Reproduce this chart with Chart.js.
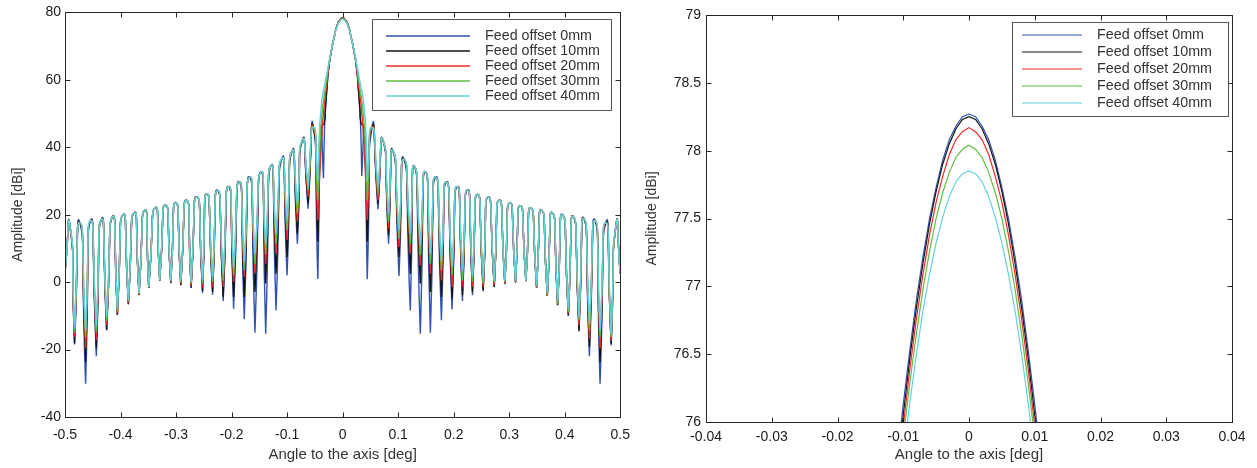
<!DOCTYPE html>
<html>
<head>
<meta charset="utf-8">
<script src="https://cdn.jsdelivr.net/npm/chart.js@4.4.1/dist/chart.umd.min.js"></script>
<style>
html,body{margin:0;padding:0;background:#fff;width:1257px;height:468px;overflow:hidden;}
#c1{position:absolute;left:0;top:0;}
#c2{position:absolute;left:640px;top:0;}
</style>
</head>
<body>
<canvas id="c1" width="640" height="468"></canvas>
<canvas id="c2" width="617" height="468"></canvas>
<script>
// ---------- series ----------
const seriesNames = ['Feed offset 0mm','Feed offset 10mm','Feed offset 20mm','Feed offset 30mm','Feed offset 40mm'];
const seriesColors = ['#3152b0','#151515','#ee2a2a','#62bd45','#66cfe0'];

// ---------- left panel: full pattern ----------
const leftXTicks = {min:-0.5, max:0.5, step:0.1};
const leftYTicks = {min:-40, max:80, step:20};

const edgeAngles = [-0.5, 0.5];
const edgeLevels = [3.0, 2.5];

const sidelobeAngles = [
 -0.4913,-0.4732,-0.4539,-0.4345,-0.4145,-0.3955,-0.3755,-0.3565,-0.3375,-0.3191,-0.3005,-0.2812,
 -0.2625,-0.2445,-0.2252,-0.2054,-0.1862,-0.1675,-0.1471,-0.1290,-0.1095,-0.0911,-0.0725,-0.0527,
 0.0528,0.0726,0.0907,0.1105,0.1295,0.1490,0.1675,0.1869,0.2062,0.2248,0.2428,0.2621,
 0.2820,0.3011,0.3199,0.3390,0.3584,0.3777,0.3963,0.4156,0.4347,0.4546,0.4739,0.4925];
const sidelobeLevels = [
 16.9,17.6,18.2,18.6,19.4,20.0,20.6,21.4,22.1,22.8,23.6,24.3,
 25.3,26.2,27.2,28.3,29.7,31.1,32.6,34.5,36.6,38.9,42.1,45.9,
 45.8,42.1,38.9,36.4,34.2,32.7,31.1,29.7,28.3,27.3,26.0,25.2,
 24.3,23.5,22.7,22.0,21.4,20.6,20.0,19.4,18.8,18.2,17.6,17.1];

const nullAngles = [
 -0.4828,-0.4629,-0.4436,-0.4250,-0.4057,-0.3859,-0.3667,-0.3492,-0.3294,-0.3095,-0.2915,-0.2729,
 -0.2523,-0.2342,-0.2151,-0.1963,-0.1772,-0.1579,-0.1386,-0.1200,-0.1001,-0.0815,-0.0622,-0.0447,
 0.0443,0.0636,0.0827,0.1015,0.1219,0.1399,0.1580,0.1779,0.1971,0.2158,0.2338,0.2531,
 0.2730,0.2921,0.3114,0.3300,0.3493,0.3686,0.3872,0.4065,0.4257,0.4444,0.4636,0.4835];

const nullDepth0mm = [
 -18.5,-30.1,-22.0,-14.3,-9.8,-6.6,-3.9,-1.7,0.4,-0.3,-1.0,-1.7,
 -3.2,-3.7,-5.6,-7.9,-11.0,-15.0,-15.3,-8.4,2.0,11.4,21.8,0.9,
 0.85,21.6,11.4,1.8,-8.4,-15.3,-15.0,-11.3,-8.1,-5.6,-3.9,-2.7,
 -1.4,-0.6,-0.1,0.3,-1.6,-4.1,-6.9,-10.0,-14.6,-22.0,-30.1,-18.8];
const nullDepth10mm = [
 -18.1,-23.7,-19.7,-14.1,-9.6,-6.4,-3.8,-1.7,0.4,-0.2,-0.8,-1.6,
 -2.6,-2.9,-4.4,-4.4,-4.4,-2.9,-0.4,2.5,7.5,14.4,23.3,12.0,
 12.0,23.3,13.9,7.5,2.5,-0.4,-2.9,-4.4,-4.9,-3.9,-2.9,-2.4,
 -1.4,-0.4,0.0,0.3,-1.6,-4.1,-6.8,-9.8,-14.3,-19.2,-23.7,-18.3];
const nullDepth20mm = [
 -16.3,-19.7,-17.1,-12.8,-9.2,-6.1,-3.7,-1.6,0.5,0.1,-0.5,-1.1,
 -1.4,-1.4,-1.4,0.1,1.5,2.5,5.5,8.5,12.4,17.9,25.3,18.4,
 18.4,24.3,15.9,10.4,8.5,5.0,2.5,0.5,-1.4,-1.4,-1.4,-1.4,
 -1.0,-0.4,0.1,0.3,-1.5,-4.0,-6.6,-9.3,-12.8,-16.8,-19.7,-17.3];
const nullDepth30mm = [
 -15.1,-16.5,-14.8,-11.5,-8.7,-5.7,-3.5,-1.5,0.6,0.3,0.0,-0.4,
 -0.4,0.1,0.5,2.0,3.5,5.5,8.3,11.4,15.4,20.4,27.3,24.3,
 24.3,26.3,17.9,12.9,11.4,8.0,5.5,3.5,2.0,0.5,0.1,-0.4,
 -0.2,0.0,0.3,0.4,-1.3,-3.9,-6.4,-8.9,-11.3,-14.3,-16.3,-16.3];
const nullDepth40mm = [
 -13.8,-14.3,-13.3,-10.3,-7.9,-5.2,-3.2,-1.4,0.7,0.5,0.5,0.1,
 0.5,1.5,2.5,4.0,6.0,8.3,11.4,14.4,18.4,23.3,28.8,30.0,
 30.0,28.8,20.4,15.4,14.4,10.9,8.5,6.0,4.5,3.5,2.0,1.0,
 0.5,0.5,0.5,0.5,-1.0,-2.9,-5.4,-7.9,-10.3,-12.3,-14.3,-15.3];

const mainLobe0mm = [
 [-0.039,44.5],[-0.0325,46],[-0.031,51],[-0.028,58],[-0.025,63.5],[-0.02,68.8],[-0.015,72.8],[-0.01,76.1],[-0.005,77.73],
 [0,78.27],
 [0.005,77.73],[0.01,76.1],[0.015,72.8],[0.02,68.8],[0.025,63.5],[0.028,58],[0.031,51],[0.0325,46],[0.039,44.5]];
const innerNull0mm = [[-0.0345,30.8],[0.0345,31.5]];
const mainLobe10mm = [
 [-0.0385,46.3],[-0.036,46.6],[-0.033,47.2],[-0.031,51.5],[-0.028,58],[-0.025,63.5],[-0.02,68.8],[-0.015,72.8],[-0.01,76.05],[-0.005,77.7],
 [0,78.25],
 [0.005,77.7],[0.01,76.05],[0.015,72.8],[0.02,68.8],[0.025,63.5],[0.028,58],[0.031,51.5],[0.033,47.2],[0.036,46.6],[0.0385,46.3]];
const mainLobe20mm = [
 [-0.04,36],[-0.037,45],[-0.034,51],[-0.031,55.5],[-0.028,59.5],[-0.025,64],[-0.02,68.9],[-0.015,72.8],[-0.01,75.97],[-0.005,77.62],
 [0,78.17],
 [0.005,77.62],[0.01,75.97],[0.015,72.8],[0.02,68.9],[0.025,64],[0.028,59.5],[0.031,55.5],[0.034,51],[0.037,45],[0.04,36]];
const mainLobe30mm = [
 [-0.0405,42],[-0.037,50],[-0.034,54.5],[-0.031,57.5],[-0.028,61],[-0.025,64.5],[-0.02,69],[-0.015,72.8],[-0.01,75.88],[-0.005,77.5],
 [0,78.04],
 [0.005,77.5],[0.01,75.88],[0.015,72.8],[0.02,69],[0.025,64.5],[0.028,61],[0.031,57.5],[0.034,54.5],[0.037,50],[0.0405,42]];
const mainLobe40mm = [
 [-0.042,44],[-0.039,51],[-0.036,55.5],[-0.033,58],[-0.03,60.5],[-0.025,64.8],[-0.02,69],[-0.015,72.7],[-0.01,75.74],[-0.005,77.32],
 [0,77.85],
 [0.005,77.32],[0.01,75.74],[0.015,72.7],[0.02,69],[0.025,64.8],[0.03,60.5],[0.033,58],[0.036,55.5],[0.039,51],[0.042,44]];

// ---------- right panel: main beam zoom ----------
const rightXTicks = {min:-0.04, max:0.04, step:0.01};
const rightYTicks = {min:76, max:79, step:0.5};
const zoomAngles = [-0.011,-0.010,-0.009,-0.008,-0.007,-0.006,-0.005,-0.004,-0.003,-0.002,-0.001,0,
                    0.001,0.002,0.003,0.004,0.005,0.006,0.007,0.008,0.009,0.010,0.011];
const zoom0mm  = [75.68,76.13,76.53,76.90,77.22,77.50,77.73,77.93,78.08,78.18,78.25,78.27,78.25,78.18,78.08,77.93,77.73,77.50,77.22,76.90,76.53,76.13,75.68];
const zoom10mm = [75.59,76.05,76.47,76.84,77.17,77.46,77.70,77.90,78.05,78.16,78.23,78.25,78.23,78.16,78.05,77.90,77.70,77.46,77.17,76.84,76.47,76.05,75.59];
const zoom20mm = [75.51,75.97,76.39,76.76,77.09,77.38,77.62,77.81,77.97,78.08,78.14,78.17,78.14,78.08,77.97,77.81,77.62,77.38,77.09,76.76,76.39,75.97,75.51];
const zoom30mm = [75.42,75.88,76.29,76.65,76.98,77.26,77.50,77.69,77.84,77.95,78.01,78.04,78.01,77.95,77.84,77.69,77.50,77.26,76.98,76.65,76.29,75.88,75.42];
const zoom40mm = [75.30,75.74,76.14,76.50,76.82,77.09,77.32,77.51,77.66,77.77,77.83,77.85,77.83,77.77,77.66,77.51,77.32,77.09,76.82,76.50,76.14,75.74,75.30];

// ---------- build data tables ----------
function buildPattern(nullDepths, mainLobe, innerNulls) {
  const pts = [];
  edgeAngles.forEach((a, i) => pts.push({x: a, y: edgeLevels[i]}));
  sidelobeAngles.forEach((a, i) => pts.push({x: a, y: sidelobeLevels[i]}));
  // each null listed twice so the spline keeps a sharp cusp there
  nullAngles.forEach((a, i) => { pts.push({x: a, y: nullDepths[i]}); pts.push({x: a, y: nullDepths[i]}); });
  mainLobe.forEach(([a, v]) => pts.push({x: a, y: v}));
  innerNulls.forEach(([a, v]) => { pts.push({x: a, y: v}); pts.push({x: a, y: v}); });
  return pts.sort((p, q) => p.x - q.x);
}
const leftSeries = [
  [nullDepth0mm, mainLobe0mm, innerNull0mm],
  [nullDepth10mm, mainLobe10mm, []],
  [nullDepth20mm, mainLobe20mm, []],
  [nullDepth30mm, mainLobe30mm, []],
  [nullDepth40mm, mainLobe40mm, []]
];
const rightSeries = [zoom0mm, zoom10mm, zoom20mm, zoom30mm, zoom40mm];

const FONT = "'Liberation Sans', Arial, Helvetica, sans-serif";

function framePlugin(leg) {
  return {
    id: 'frameLegend',
    afterDraw(chart) {
      const {ctx, chartArea: a, scales: {x, y}} = chart;
      ctx.save();
      ctx.strokeStyle = '#262626';
      ctx.lineWidth = 1;
      const L = Math.round(a.left) + 0.5, T = Math.round(a.top) + 0.5;
      const R = Math.round(a.right) + 0.5, B = Math.round(a.bottom) + 0.5;
      ctx.strokeRect(L, T, R - L, B - T);
      const tl = 5;
      ctx.beginPath();
      x.ticks.forEach(t => {
        const px = Math.round(x.getPixelForValue(t.value)) + 0.5;
        ctx.moveTo(px, B); ctx.lineTo(px, B - tl);
        ctx.moveTo(px, T); ctx.lineTo(px, T + tl);
      });
      y.ticks.forEach(t => {
        const py = Math.round(y.getPixelForValue(t.value)) + 0.5;
        ctx.moveTo(L, py); ctx.lineTo(L + tl, py);
        ctx.moveTo(R, py); ctx.lineTo(R - tl, py);
      });
      ctx.stroke();
      // legend
      ctx.fillStyle = '#ffffff';
      ctx.fillRect(leg.x, leg.y, leg.w, leg.h);
      ctx.strokeStyle = '#555555';
      ctx.strokeRect(leg.x + 0.5, leg.y + 0.5, leg.w, leg.h);
      ctx.font = leg.font;
      ctx.textBaseline = 'middle';
      ctx.textAlign = 'left';
      seriesNames.forEach((name, i) => {
        const ry = leg.rows[i];
        ctx.strokeStyle = seriesColors[i];
        ctx.lineWidth = leg.lw;
        ctx.beginPath();
        ctx.moveTo(leg.lx0, ry); ctx.lineTo(leg.lx1, ry);
        ctx.stroke();
        ctx.fillStyle = '#333333';
        ctx.fillText(name, leg.tx, ry);
      });
      ctx.restore();
    }
  };
}

function makeOptions(xt, yt, fmtX, geo) {
  return {
    responsive: false,
    devicePixelRatio: 1,
    animation: false,
    events: [],
    layout: {padding: {left: 0, top: geo.top, right: geo.right, bottom: 0}},
    plugins: {legend: {display: false}, tooltip: {enabled: false}},
    elements: {point: {radius: 0}},
    scales: {
      x: {
        type: 'linear', min: xt.min, max: xt.max,
        grid: {display: false, drawTicks: false},
        border: {display: false},
        ticks: {stepSize: xt.step, padding: geo.xTickPad, color: '#1a1a1a', maxRotation: 0,
                font: {family: FONT, size: 14}, callback: fmtX},
        title: {display: true, text: 'Angle to the axis [deg]', color: '#333333',
                font: {family: FONT, size: 15}, padding: {top: 0, bottom: geo.xTitlePad}},
        afterFit(s) { s.height = geo.xH; }
      },
      y: {
        type: 'linear', min: yt.min, max: yt.max,
        grid: {display: false, drawTicks: false},
        border: {display: false},
        ticks: {stepSize: yt.step, padding: geo.yTickPad, color: '#1a1a1a',
                font: {family: FONT, size: 14}, callback: v => String(+v.toFixed(2))},
        title: {display: true, text: 'Amplitude [dBi]', color: '#333333',
                font: {family: FONT, size: 14}, padding: {top: geo.yTitlePad, bottom: 0}},
        afterFit(s) { s.width = geo.yW; }
      }
    }
  };
}

new Chart(document.getElementById('c1'), {
  type: 'line',
  data: {
    datasets: leftSeries.map((s, i) => ({
      label: seriesNames[i],
      data: buildPattern(s[0], s[1], s[2]),
      borderColor: seriesColors[i],
      borderWidth: 1.4,
      pointRadius: 0,
      tension: 0.85,
      fill: false,
      order: 4 - i
    }))
  },
  options: makeOptions(leftXTicks, leftYTicks, v => String(+v.toFixed(1)),
    {top: 12, right: 19, xH: 51, yW: 65, xTickPad: 10, yTickPad: 4, xTitlePad: 4, yTitlePad: 10}),
  plugins: [framePlugin({x: 372, y: 19, w: 239, h: 91, lx0: 386, lx1: 470, tx: 485,
    rows: [36, 51, 66, 81, 96], lw: 1.3, font: "14.3px " + FONT})]
});

new Chart(document.getElementById('c2'), {
  type: 'line',
  data: {
    datasets: rightSeries.map((vals, i) => ({
      label: seriesNames[i],
      data: zoomAngles.map((a, k) => ({x: a, y: vals[k]})),
      borderColor: seriesColors[i],
      borderWidth: 1.2,
      pointRadius: 0,
      tension: 0,
      fill: false,
      order: 4 - i
    }))
  },
  options: makeOptions(rightXTicks, rightYTicks, v => String(+v.toFixed(2)),
    {top: 15, right: 25, xH: 46, yW: 66, xTickPad: 7, yTickPad: 5, xTitlePad: 4, yTitlePad: 4}),
  plugins: [framePlugin({x: 372, y: 22, w: 216, h: 94, lx0: 382, lx1: 442, tx: 457,
    rows: [35, 52, 69, 86, 103], lw: 1.1, font: "14.3px " + FONT})]
});
</script>
</body>
</html>
